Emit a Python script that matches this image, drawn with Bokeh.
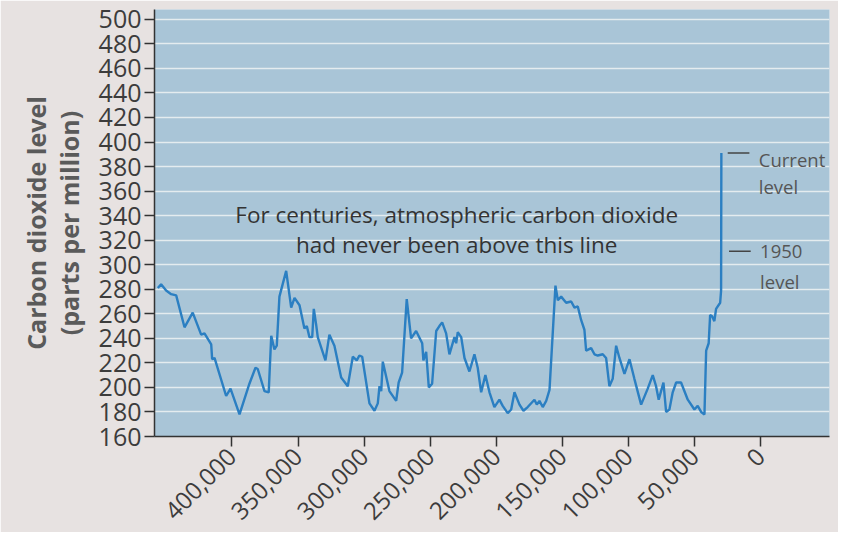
import math
from bokeh.plotting import figure
from bokeh.models import Range1d, FixedTicker, NumeralTickFormatter
from bokeh.core.properties import value
from bokeh.embed import file_html
from bokeh.resources import INLINE

# ---- data (thousands of years ago, CO2 ppm) ----
years_k = [456.1, 453.6, 449.8, 446.0, 442.2, 435.9, 429.7, 423.3, 420.8, 415.7,
           415.0, 413.2, 404.4, 401.1, 394.3, 386.8, 382.2, 380.5, 375.4, 372.2,
           370.3, 367.9, 366.1, 364.1, 359.0, 355.2, 352.7, 348.9,
           345.2, 343.4, 341.4, 339.3, 338.1, 336.3, 335.1, 329.3, 326.3, 322.5,
           317.4, 312.4, 308.6, 305.6, 303.6, 301.5, 296.0, 292.2, 289.7, 288.4,
           287.1, 285.9, 280.9, 275.8, 273.9, 271.3, 267.8, 264.5, 260.7, 256.1,
           255.2, 253.1, 251.1, 248.6, 245.5, 243.1, 241.0, 238.0,
           235.5, 231.7, 230.4, 229.2, 226.6, 224.1, 220.4, 216.6, 214.1, 211.5,
           208.3, 205.2, 201.5, 197.7, 195.2, 191.4, 188.8, 186.3, 182.5, 179.5,
           176.3, 171.2, 169.4, 167.4, 164.9, 162.3, 159.8, 155.3, 153.5, 151.0,
           147.2, 143.4, 140.9, 138.4, 135.9, 133.4, 132.1, 128.3, 125.8, 123.3,
           119.5, 117.0,
           114.5, 112.0, 109.4, 106.9, 103.1, 99.3, 95.6, 90.5, 85.5, 81.7,
           79.2, 77.2, 75.4, 73.6, 71.6, 69.1, 66.6, 64.0, 60.3, 55.2,
           50.2, 47.7, 45.1, 42.6, 41.3, 39.4, 38.3, 36.8, 35.1, 33.8,
           30.7, 30.0, 29.8]
co2_ppm = [281, 284, 279, 276, 275, 249, 261, 243, 244, 235,
           223, 224, 193, 199, 178, 203, 216, 215, 197, 196,
           242, 231, 234, 274, 295, 265, 273, 267,
           248, 250, 241, 241, 264, 251, 241, 222, 243, 234,
           208, 201, 225, 222, 226, 225, 187, 181, 187, 201,
           197, 221, 197, 189, 204, 212, 272, 240, 246, 236,
           222, 229, 200, 203, 246, 250, 253, 244,
           227, 241, 236, 245, 241, 224, 213, 227, 216, 196,
           210, 196, 184, 190, 185, 179, 182, 196, 186, 181,
           184, 190, 186, 189, 184, 189, 198, 283, 271, 274,
           269, 270, 265, 266, 255, 247, 230, 232, 227, 226,
           227, 224,
           201, 207, 234, 224, 211, 223, 207, 186, 199, 210,
           201, 190, 197, 204, 180, 182, 196, 204, 204, 190,
           182, 185, 180, 178, 230, 236, 259, 258, 254, 264,
           269, 279, 391]

x_ticks = [400000, 350000, 300000, 250000, 200000, 150000, 100000, 50000, 0]
y_ticks = [160, 180, 200, 220, 240, 260, 280, 300, 320, 340, 360, 380,
           400, 420, 440, 460, 480, 500]

current_level = 391
level_1950 = 311
note_lines = ["For centuries, atmospheric carbon dioxide",
              "had never been above this line"]
side_labels = ["Current", "level", "1950", "level"]

years = [v * 1000 for v in years_k]

FONT = "Open Sans"

p = figure(width=838, height=532, output_backend="svg", toolbar_location=None,
           x_range=Range1d(458600, -52000), y_range=Range1d(160, 508),
           min_border_left=154, min_border_right=9, min_border_top=9,
           min_border_bottom=96)
p.background_fill_color = "#a9c5d7"
p.border_fill_color = "#e7e2e1"
p.outline_line_color = None
p.xgrid.visible = False
p.ygrid.grid_line_color = "#eef2f3"
p.ygrid.grid_line_width = 1.3
p.ygrid.grid_line_alpha = 0.85

p.line(years, co2_ppm, line_color="#2b7fc2", line_width=2.4)

# annotations
p.text(x=[230000, 230000], y=[341, 316.5], text=note_lines,
       text_font=value(FONT), text_font_size="22.5px", text_color="#333333",
       text_align="center", text_baseline="middle")
p.segment(x0=[25000, 24000], y0=[current_level, level_1950],
          x1=[8600, 7600], y1=[current_level, level_1950],
          line_color="#444444", line_width=1.5)
p.text(x=[1500, 1500, 500, 500], y=[386, 364, level_1950, 286.5], text=side_labels,
       text_font=value(FONT), text_font_size="18.5px", text_color="#555555",
       text_align="left", text_baseline="middle")

# axes
for ax in (p.xaxis[0], p.yaxis[0]):
    ax.axis_line_color = "#333333"
    ax.axis_line_width = 1.5
    ax.major_tick_line_color = "#333333"
    ax.major_tick_line_width = 1.5
    ax.major_tick_out = 10
    ax.major_tick_in = 0
    ax.minor_tick_line_color = None
    ax.major_label_text_font = FONT
    ax.major_label_text_color = "#3c3c3c"

p.xaxis.ticker = FixedTicker(ticks=x_ticks)
p.xaxis.formatter = NumeralTickFormatter(format="0,0")
p.xaxis.major_label_orientation = math.pi / 4
p.xaxis.major_label_text_font_size = "24px"
p.xaxis.major_label_standoff = 6

p.yaxis.ticker = FixedTicker(ticks=y_ticks)
p.yaxis.major_label_text_font_size = "25px"
p.yaxis.major_label_standoff = 3
p.yaxis.axis_label = "Carbon dioxide level\n(parts per million)"
p.yaxis.axis_label_text_font = FONT
p.yaxis.axis_label_text_font_size = "25px"
p.yaxis.axis_label_text_font_style = "bold"
p.yaxis.axis_label_text_line_height = 0.95
p.yaxis.axis_label_text_color = "#5a5a5a"
p.yaxis.axis_label_standoff = 10

open("out.html", "w").write(file_html(p, INLINE))
